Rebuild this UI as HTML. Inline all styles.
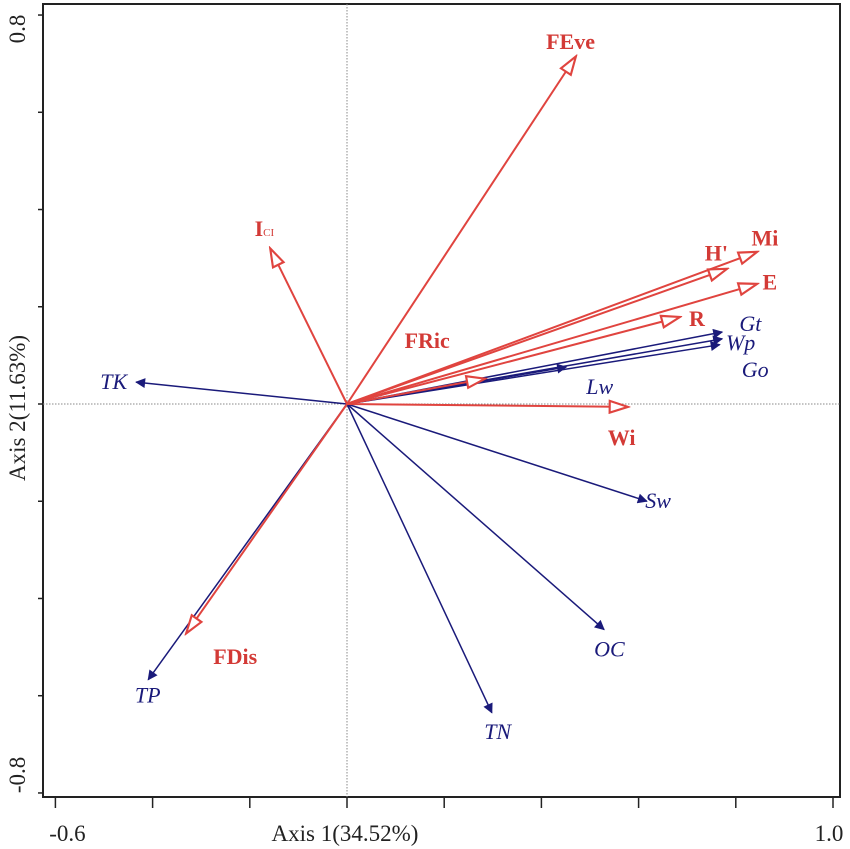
<!DOCTYPE html>
<html><head><meta charset="utf-8"><style>
html,body{margin:0;padding:0;background:#fff}
svg{display:block;font-family:"Liberation Serif",serif}
</style></head><body>
<svg id="chart" width="850" height="849" viewBox="0 0 850 849" xmlns="http://www.w3.org/2000/svg">
<defs>
<marker id="blueHead" viewBox="0 0 10 10" refX="9" refY="5" markerWidth="14" markerHeight="10" markerUnits="userSpaceOnUse" orient="auto"><path d="M0,0 L10,5 L0,10 z" fill="#1a1a7a"/></marker>
<marker id="redHead" viewBox="0 0 20 14" refX="18" refY="7" markerWidth="22" markerHeight="15" markerUnits="userSpaceOnUse" orient="auto"><path d="M1,1.5 L18,7 L1,12.5 z" fill="#fff" stroke="#e0443f" stroke-width="2"/></marker>
</defs>
<g id="frame"></g>
<g id="vectors"></g>
<g id="labels"></g>
</svg>
<script>
const xTicks=[-0.6,-0.4,-0.2,0,0.2,0.4,0.6,0.8,1.0];
const yTicks=[0.8,0.6,0.4,0.2,0,-0.2,-0.4,-0.6,-0.8];
const envNames=["TK","TP","TN","OC","Sw","Lw","Gt","Wp","Go"];
const envX=[-0.434,-0.409,0.298,0.529,0.617,0.451,0.772,0.772,0.767];
const envY=[0.045,-0.567,-0.635,-0.464,-0.2,0.076,0.148,0.134,0.122];
const idxNames=["FEve","ICI","H'","Mi","E","R","FRic","Wi","FDis"];
const idxX=[0.471,-0.158,0.782,0.844,0.844,0.685,0.284,0.578,-0.331];
const idxY=[0.715,0.32,0.278,0.313,0.247,0.179,0.052,-0.006,-0.472];
const envLabX=[-0.48,-0.41,0.31,0.54,0.64,0.52,0.83,0.81,0.84];
const envLabY=[0.045,-0.6,-0.675,-0.505,-0.2,0.035,0.165,0.125,0.07];
const idxLabX=[0.46,-0.17,0.76,0.86,0.87,0.72,0.165,0.565,-0.23];
const idxLabY=[0.745,0.36,0.31,0.34,0.25,0.175,0.13,-0.07,-0.52];

const X=v=>347+v*486, Y=v=>404-v*486.2;
const NS="http://www.w3.org/2000/svg";
function mk(tag,attrs,parent){const e=document.createElementNS(NS,tag);for(const k in attrs)e.setAttribute(k,attrs[k]);parent.appendChild(e);return e;}
const frame=document.getElementById('frame'),vec=document.getElementById('vectors'),lab=document.getElementById('labels');
let r=mk('rect',{x:43,y:4,width:797,height:793,fill:'none',stroke:'#222','stroke-width':2},frame);

let l=mk('line',{x1:X(0),y1:4,x2:X(0),y2:797,stroke:'#888','stroke-width':1,'stroke-dasharray':'1.5,1.5'},frame);

l=mk('line',{x1:43,y1:Y(0),x2:840,y2:Y(0),stroke:'#888','stroke-width':1,'stroke-dasharray':'1.5,1.5'},frame);

xTicks.forEach(v=>{const t=mk('line',{x1:X(v),y1:797,x2:X(v),y2:808,stroke:'#222','stroke-width':1.5},frame);
});
yTicks.forEach(v=>{const t=mk('line',{x1:38,y1:Y(v),x2:43,y2:Y(v),stroke:'#222','stroke-width':1.5},frame);
});
let t=mk('text',{x:X(-0.6)+12,y:841,'font-size':23,'text-anchor':'middle',fill:'#222'},frame);t.textContent='-0.6';

t=mk('text',{x:X(1.0)-4,y:841,'font-size':23,'text-anchor':'middle',fill:'#222'},frame);t.textContent='1.0';

t=mk('text',{x:345,y:841,'font-size':23,'text-anchor':'middle',fill:'#222'},frame);t.textContent='Axis 1(34.52%)';

t=mk('text',{x:0,y:0,'font-size':23,'text-anchor':'middle',fill:'#222',transform:`translate(25,${Y(0.8)+14}) rotate(-90)`},frame);t.textContent='0.8';

t=mk('text',{x:0,y:0,'font-size':23,'text-anchor':'middle',fill:'#222',transform:`translate(25,${Y(-0.8)-18}) rotate(-90)`},frame);t.textContent='-0.8';

t=mk('text',{x:0,y:0,'font-size':23,'text-anchor':'middle',fill:'#222',transform:`translate(25,${Y(0)+4}) rotate(-90)`},frame);t.textContent='Axis 2(11.63%)';


envNames.forEach((n,i)=>{
 const a=mk('line',{x1:X(0),y1:Y(0),x2:X(envX[i]),y2:Y(envY[i]),stroke:'#1a1a7a','stroke-width':1.5,'marker-end':'url(#blueHead)'},vec);
 
 const tx=mk('text',{x:X(envLabX[i]),y:Y(envLabY[i])+7,'font-size':22,'font-style':'italic','text-anchor':'middle',fill:'#1a1a7a'},lab);
 tx.textContent=n;
 
});
idxNames.forEach((n,i)=>{
 const a=mk('line',{x1:X(0),y1:Y(0),x2:X(idxX[i]),y2:Y(idxY[i]),stroke:'#e0443f','stroke-width':2,'marker-end':'url(#redHead)'},vec);
 
 const tx=mk('text',{x:X(idxLabX[i]),y:Y(idxLabY[i])+7,'font-size':22,'font-weight':'bold','text-anchor':'middle',fill:'#d33a36'},lab);
 if(n==='ICI'){tx.textContent='I';const s=mk('tspan',{'font-size':11,'font-weight':'normal'},tx);s.textContent='CI';}
 else tx.textContent=n;
 
});
</script>
</body></html>
